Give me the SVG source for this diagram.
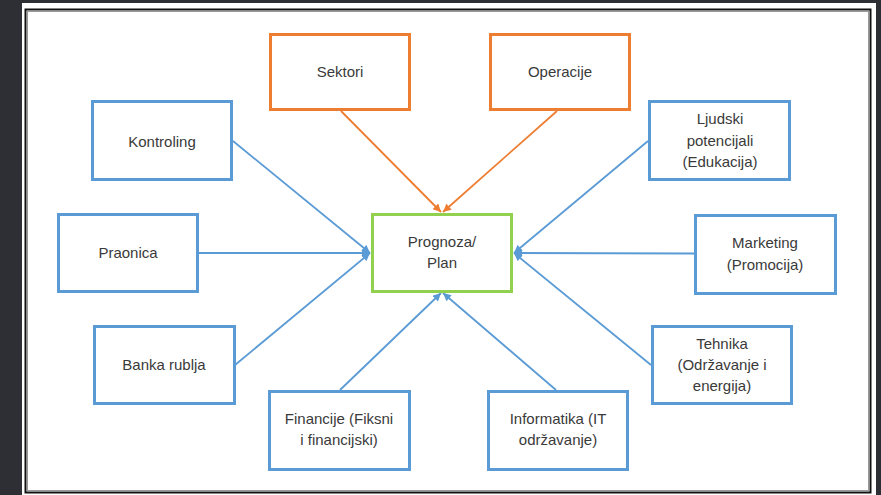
<svg xmlns="http://www.w3.org/2000/svg" width="881" height="495" viewBox="0 0 881 495">
<style>
.box{fill:#fff;stroke-width:3}
.blue{stroke:#5B9BD5}
.orange{stroke:#ED7D31}
.green{stroke:#92D050}
text{font-family:"Liberation Sans",Arial,sans-serif;font-size:15px;fill:#3a3a3a;text-anchor:middle}
.cb{stroke:#5B9BD5;stroke-width:1.8;fill:none}
.co{stroke:#ED7D31;stroke-width:1.8;fill:none}
</style>
<defs>
<marker id="ab" viewBox="0 0 10 10" refX="10" refY="5" markerWidth="9" markerHeight="8" markerUnits="userSpaceOnUse" orient="auto"><path d="M0,0 L10,5 L0,10 z" fill="#5B9BD5"/></marker>
<marker id="ao" viewBox="0 0 10 10" refX="10" refY="5" markerWidth="9" markerHeight="8" markerUnits="userSpaceOnUse" orient="auto"><path d="M0,0 L10,5 L0,10 z" fill="#ED7D31"/></marker>
</defs>
<rect x="0" y="0" width="881" height="495" fill="#2d2f34"/>
<rect x="22" y="3" width="854" height="492" fill="#fff"/>
<rect x="25.5" y="9.5" width="845" height="483" fill="none" stroke="#111" stroke-width="2"/>
<rect x="27.5" y="11.5" width="841" height="479" fill="none" stroke="#999" stroke-width="1"/>
<g id="connectors">
<line class="co" x1="341" y1="111" x2="441" y2="212" marker-end="url(#ao)"/>
<line class="co" x1="557" y1="111" x2="443" y2="212" marker-end="url(#ao)"/>
<line class="cb" x1="233" y1="141" x2="370" y2="253" marker-end="url(#ab)"/>
<line class="cb" x1="199" y1="253" x2="370" y2="253" marker-end="url(#ab)"/>
<line class="cb" x1="235" y1="365" x2="370" y2="253" marker-end="url(#ab)"/>
<line class="cb" x1="648" y1="141" x2="514" y2="253" marker-end="url(#ab)"/>
<line class="cb" x1="694" y1="253.5" x2="514" y2="253" marker-end="url(#ab)"/>
<line class="cb" x1="651" y1="365" x2="514" y2="253" marker-end="url(#ab)"/>
<line class="cb" x1="340" y1="390" x2="441" y2="293" marker-end="url(#ab)"/>
<line class="cb" x1="556" y1="390" x2="443" y2="293" marker-end="url(#ab)"/>
</g>
<g id="sektori"><rect class="box orange" x="270.5" y="34.5" width="139" height="75"/><text x="340" y="77">Sektori</text></g>
<g id="operacije"><rect class="box orange" x="490.5" y="34.5" width="139" height="75"/><text x="560" y="77">Operacije</text></g>
<g id="prognoza"><rect class="box green" x="372.5" y="214.5" width="139" height="77"/><text x="442" y="246.5">Prognoza/</text><text x="442" y="268">Plan</text></g>
<g id="kontroling"><rect class="box blue" x="92.5" y="101.5" width="139" height="78"/><text x="162" y="146.5">Kontroling</text></g>
<g id="praonica"><rect class="box blue" x="58.5" y="214.5" width="139" height="77"/><text x="128" y="258">Praonica</text></g>
<g id="banka"><rect class="box blue" x="94.5" y="326.5" width="140" height="77"/><text x="164" y="370">Banka rublja</text></g>
<g id="ljudski"><rect class="box blue" x="649.5" y="101.5" width="140" height="78"/><text x="720" y="124">Ljudski</text><text x="720" y="145.5">potencijali</text><text x="720" y="167">(Edukacija)</text></g>
<g id="marketing"><rect class="box blue" x="695.5" y="215.5" width="140" height="78"/><text x="765" y="248">Marketing</text><text x="765" y="270">(Promocija)</text></g>
<g id="tehnika"><rect class="box blue" x="652.5" y="326.5" width="139" height="77"/><text x="722" y="348.5">Tehnika</text><text x="722" y="370">(Održavanje i</text><text x="722" y="391">energija)</text></g>
<g id="financije"><rect class="box blue" x="269.5" y="391.5" width="140" height="78"/><text x="339" y="424">Financije (Fiksni</text><text x="339" y="445">i financijski)</text></g>
<g id="informatika"><rect class="box blue" x="488.5" y="391.5" width="139" height="78"/><text x="558" y="424">Informatika (IT</text><text x="558" y="445">održavanje)</text></g>
</svg>
